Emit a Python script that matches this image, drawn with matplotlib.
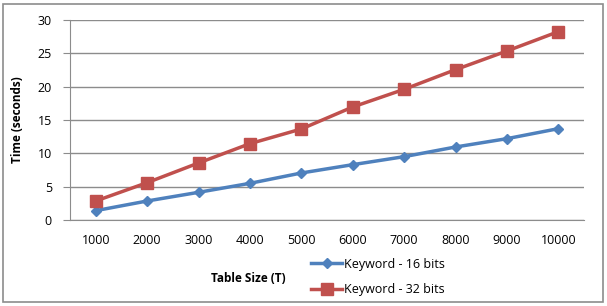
import matplotlib
matplotlib.use("Agg")
import matplotlib.pyplot as plt
from matplotlib.patches import Rectangle

categories = ["1000", "2000", "3000", "4000", "5000", "6000", "7000", "8000", "9000", "10000"]
kw16 = [1.4, 2.85, 4.15, 5.5, 7.05, 8.3, 9.5, 10.95, 12.2, 13.7]
kw32 = [2.85, 5.6, 8.55, 11.45, 13.65, 16.95, 19.6, 22.55, 25.35, 28.25]
yticks = [0, 5, 10, 15, 20, 25, 30]

plt.rcParams['font.family'] = ['Open Sans', 'DejaVu Sans']

fig = plt.figure(figsize=(6.07, 3.06), dpi=100)
fig.patch.set_facecolor('white')
fig.patches.append(Rectangle((3/607, 4/306), 600/607, 298/306, transform=fig.transFigure,
                             fill=False, edgecolor='#8c8c8c', linewidth=1.2))

ax = fig.add_axes([70/607, 1 - 220/306, 514/607, 200/306])
x = list(range(len(categories)))
l1, = ax.plot(x, kw16, color='#4F81BD', marker='D', markersize=5.5, linewidth=2.5, label='Keyword - 16 bits')
l2, = ax.plot(x, kw32, color='#C0504D', marker='s', markersize=8, linewidth=2.5, label='Keyword - 32 bits')

ax.set_xlim(-0.5, len(categories) - 0.5)
ax.set_ylim(0, 30)
ax.set_yticks(yticks)
ax.set_xticks(x)
ax.set_xticklabels(categories)
ax.grid(axis='y', color='#8c8c8c', linewidth=1)
ax.set_axisbelow(True)
for s in ['top', 'right']:
    ax.spines[s].set_visible(False)
ax.spines['left'].set_color('#8c8c8c')
ax.spines['bottom'].set_color('#8c8c8c')
ax.tick_params(axis='y', length=5, color='#8c8c8c', labelsize=9, pad=8)
ax.tick_params(axis='x', length=0, labelsize=9, pad=10)

ax.set_ylabel('Time (seconds)', fontsize=8.5, fontweight='bold', labelpad=10)
fig.text(248/607, 1 - 279/306, 'Table Size (T)', fontsize=8.5, fontweight='bold', ha='center', va='center')

fig.legend(handles=[l1, l2], loc='center left', bbox_to_anchor=(311/607, 1 - 277/306),
           frameon=False, fontsize=9, handlelength=2.5, handletextpad=0.1, labelspacing=1.0,
           borderpad=0, borderaxespad=0)

fig.savefig('out.png', dpi=100)
